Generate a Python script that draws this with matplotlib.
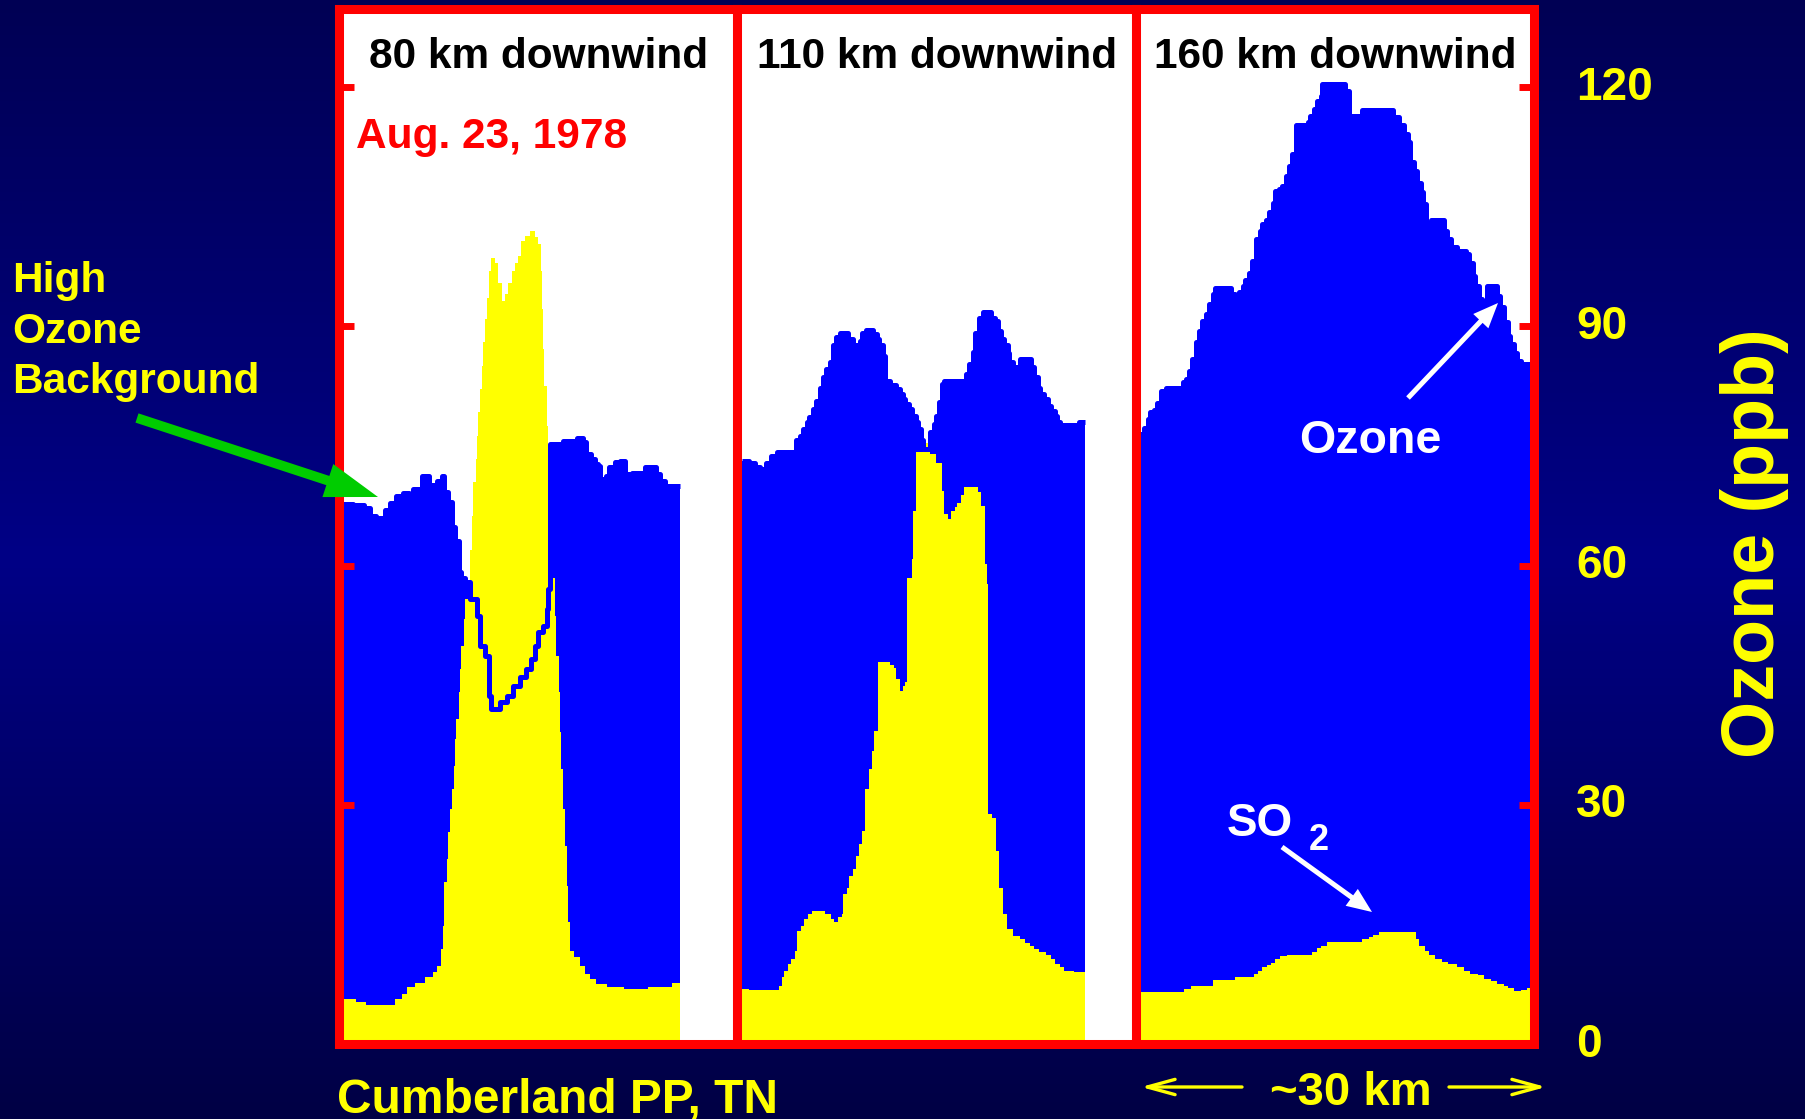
import matplotlib.pyplot as plt
import matplotlib.transforms as mtransforms
import numpy as np
from matplotlib.colors import LinearSegmentedColormap
from matplotlib.patches import FancyArrowPatch

plt.rcParams['font.family'] = ['Liberation Sans', 'DejaVu Sans']
plt.rcParams['font.weight'] = 'bold'

# (distance along traverse in km, concentration in ppb), step points
ozone_80 = [(0.0, 67.7), (0.8, 67.6), (1.6, 67.2), (2.1, 66.2), (2.5, 65.2), (2.8, 66.0), (3.2, 67.0),
            (3.6, 67.8), (4.1, 68.7), (4.6, 69.1), (5.1, 68.5), (5.4, 69.6), (6.1, 71.2), (6.6, 70.1),
            (7.2, 70.6), (7.6, 71.2), (7.8, 69.2), (8.1, 68.0), (8.4, 64.8), (8.6, 63.1), (8.9, 59.2),
            (9.1, 58.5), (9.4, 57.9), (9.8, 55.8), (10.3, 53.7), (10.5, 49.9), (10.9, 48.7), (11.2, 43.6),
            (11.4, 42.0), (12.1, 42.9), (12.6, 43.6), (13.1, 44.9), (13.6, 46.0), (14.1, 47.0), (14.5, 48.3),
            (14.8, 49.9), (15.0, 51.7), (15.4, 52.4), (15.7, 54.5), (15.8, 57.0), (15.9, 75.2), (16.9, 75.6),
            (18.0, 76.0), (18.5, 75.5), (18.7, 74.0), (19.1, 73.4), (19.4, 72.7), (19.6, 72.5), (19.8, 70.8),
            (20.2, 71.2), (20.5, 72.3), (20.9, 73.0), (21.3, 73.1), (21.7, 71.5), (22.2, 71.6), (23.2, 72.3),
            (24.1, 71.5), (24.4, 70.6), (24.8, 70.0), (25.9, 70.0)]
so2_80 = [(0.0, 5.6), (1.0, 5.3), (1.8, 4.9), (4.0, 5.6), (4.5, 6.3), (4.9, 7.2), (5.5, 7.7), (6.3, 8.4),
          (6.9, 9.0), (7.2, 9.8), (7.5, 11.9), (7.7, 14.8), (7.8, 20.3), (8.0, 23.2), (8.1, 26.6), (8.2, 29.5),
          (8.4, 32.0), (8.5, 34.9), (8.6, 38.2), (8.7, 40.8), (8.9, 44.1), (9.0, 47.0), (9.1, 49.9), (9.3, 53.3),
          (9.4, 55.8), (9.6, 58.1), (9.8, 62.0), (9.9, 66.2), (10.0, 70.5), (10.2, 73.4), (10.3, 76.2),
          (10.4, 79.2), (10.5, 82.1), (10.7, 85.0), (10.8, 88.0), (10.9, 90.9), (11.1, 93.6), (11.2, 96.9),
          (11.4, 98.6), (11.7, 98.0), (11.9, 95.5), (12.2, 93.2), (12.5, 94.0), (12.7, 95.5), (13.0, 96.9),
          (13.2, 98.0), (13.5, 98.8), (13.7, 100.7), (14.0, 101.3), (14.4, 101.9), (14.8, 101.2), (15.0, 100.3),
          (15.2, 96.9), (15.3, 92.2), (15.4, 87.1), (15.5, 82.5), (15.7, 77.5), (15.8, 69.6), (15.9, 60.0),
          (16.1, 58.5), (16.3, 53.7), (16.4, 48.7), (16.6, 44.1), (16.7, 39.1), (16.8, 34.5), (16.9, 29.5),
          (17.1, 24.8), (17.2, 19.8), (17.3, 15.3), (17.5, 11.7), (17.8, 10.9), (18.2, 9.8), (18.6, 8.8),
          (19.0, 8.2), (19.5, 7.5), (20.3, 7.2), (21.6, 6.9), (23.5, 7.2), (25.3, 7.6), (25.9, 7.6)]

ozone_110 = [(0.0, 73.1), (0.6, 72.9), (1.0, 72.3), (1.4, 71.8), (1.6, 72.1), (1.9, 72.9), (2.3, 73.8),
             (2.7, 74.3), (4.2, 75.7), (4.5, 76.3), (4.7, 77.1), (5.0, 78.0), (5.2, 78.6), (5.5, 79.6),
             (5.7, 80.7), (6.0, 82.3), (6.3, 83.6), (6.5, 84.6), (6.8, 85.5), (7.0, 87.6), (7.3, 88.7),
             (7.6, 89.2), (8.2, 88.4), (8.6, 87.6), (9.1, 88.2), (9.3, 89.2), (9.6, 89.5), (10.1, 89.0),
             (10.4, 88.4), (10.6, 87.6), (10.9, 86.3), (11.0, 83.2), (11.4, 82.7), (11.6, 82.6), (11.9, 82.1),
             (12.2, 81.5), (12.4, 80.9), (12.6, 80.3), (12.9, 79.6), (13.1, 78.8), (13.4, 78.0), (13.6, 77.1),
             (13.8, 75.7), (14.0, 74.6), (14.5, 76.7), (14.8, 77.7), (15.0, 78.8), (15.2, 80.5), (15.4, 82.8),
             (15.6, 83.2), (16.8, 82.3), (17.0, 83.2), (17.3, 84.0), (17.5, 85.3), (17.8, 86.8), (18.0, 89.2),
             (18.3, 91.1), (18.6, 91.8), (19.2, 91.1), (19.5, 90.7), (19.7, 89.4), (20.0, 88.4), (20.2, 87.6),
             (20.5, 86.7), (20.6, 85.5), (20.9, 84.9), (21.4, 85.9), (22.3, 84.9), (22.5, 83.6), (22.8, 82.3),
             (23.0, 81.5), (23.3, 80.9), (23.6, 80.0), (23.8, 79.4), (24.1, 78.8), (24.3, 78.0), (24.5, 77.6),
             (26.0, 78.0), (26.4, 78.0)]
so2_110 = [(0.0, 6.9), (0.6, 6.8), (2.9, 7.3), (3.1, 8.4), (3.3, 9.2), (3.6, 10.0), (3.8, 10.7), (4.1, 11.7),
           (4.3, 14.2), (4.6, 14.8), (4.8, 15.7), (5.1, 16.3), (5.4, 16.7), (6.4, 16.3), (6.9, 15.7), (7.1, 15.3),
           (7.4, 15.9), (7.7, 16.3), (7.8, 18.8), (8.1, 19.6), (8.3, 21.1), (8.6, 21.9), (8.8, 23.6), (9.0, 25.1),
           (9.3, 26.7), (9.5, 32.0), (9.8, 34.5), (10.0, 36.8), (10.2, 39.3), (10.5, 47.9), (11.4, 47.5),
           (11.7, 47.2), (11.9, 45.8), (12.2, 44.3), (12.4, 44.9), (12.6, 45.4), (12.7, 58.5), (13.1, 60.8),
           (13.2, 66.9), (13.4, 74.3), (14.0, 75.4), (14.5, 74.0), (15.0, 72.9), (15.4, 69.4), (15.6, 66.5),
           (15.9, 65.8), (16.1, 66.9), (16.4, 67.3), (16.6, 67.9), (16.9, 68.8), (17.1, 69.9), (18.2, 69.2),
           (18.4, 67.5), (18.7, 60.2), (18.9, 57.7), (19.0, 28.8), (19.3, 28.4), (19.6, 24.2), (19.8, 19.6),
           (20.1, 16.3), (20.4, 14.4), (20.9, 13.6), (21.4, 13.2), (21.8, 12.7), (22.2, 12.3), (22.5, 11.9),
           (22.9, 11.6), (23.4, 11.2), (23.8, 10.7), (24.1, 10.0), (24.5, 9.6), (24.8, 9.2), (25.6, 9.0),
           (26.4, 9.0)]

ozone_160 = [(0.0, 76.5), (0.3, 77.3), (0.6, 78.4), (0.8, 79.2), (1.1, 79.5), (1.3, 80.4), (1.6, 81.9),
             (2.0, 82.3), (3.3, 83.0), (3.5, 83.4), (3.8, 84.4), (4.0, 85.9), (4.3, 88.0), (4.5, 89.4),
             (4.8, 90.7), (5.1, 91.5), (5.3, 92.8), (5.6, 94.0), (5.8, 94.8), (7.0, 94.0), (7.3, 92.6),
             (7.6, 94.3), (7.9, 95.1), (8.1, 95.8), (8.4, 96.7), (8.6, 98.2), (8.9, 100.9), (9.2, 102.0),
             (9.4, 102.8), (9.7, 103.4), (9.9, 104.3), (10.2, 105.5), (10.4, 107.0), (10.7, 107.2),
             (10.9, 107.6), (11.2, 108.9), (11.5, 110.1), (11.7, 111.6), (12.0, 115.2), (12.9, 115.6),
             (13.1, 116.4), (13.4, 117.2), (13.6, 118.2), (13.9, 118.9), (14.0, 120.4), (15.8, 119.5),
             (16.1, 116.4), (17.1, 117.1), (19.5, 116.2), (19.9, 115.2), (20.3, 114.1), (20.6, 113.1),
             (20.8, 110.6), (21.1, 109.5), (21.3, 108.0), (21.6, 106.8), (21.8, 105.3), (22.0, 102.0),
             (22.4, 103.4), (23.4, 102.0), (23.6, 100.9), (23.9, 99.9), (24.4, 99.5), (25.1, 99.1),
             (25.3, 98.0), (25.6, 96.3), (25.8, 95.1), (26.1, 93.4), (26.3, 93.2), (26.7, 95.0), (27.5, 93.8),
             (27.7, 92.4), (28.0, 90.5), (28.3, 88.8), (28.5, 87.8), (28.8, 86.7), (29.0, 85.7), (29.3, 85.3),
             (30.1, 85.3)]
so2_160 = [(0.0, 6.5), (3.4, 6.9), (3.9, 7.3), (5.6, 8.0), (7.3, 8.4), (8.8, 8.8), (9.1, 9.2), (9.4, 9.6),
           (9.8, 9.9), (10.1, 10.2), (10.4, 10.7), (10.8, 11.0), (11.3, 11.2), (13.2, 11.6), (13.6, 12.0),
           (13.9, 12.3), (14.4, 12.8), (17.1, 13.2), (17.6, 13.4), (17.9, 13.7), (18.4, 14.0), (21.2, 13.2),
           (21.5, 12.3), (21.9, 11.7), (22.2, 11.1), (22.7, 10.7), (23.2, 10.3), (23.7, 10.0), (24.4, 9.6),
           (24.9, 9.2), (25.4, 8.8), (26.0, 8.6), (26.5, 8.2), (27.0, 7.9), (27.5, 7.5), (28.0, 7.3),
           (28.3, 7.0), (28.8, 6.6), (29.3, 6.8), (29.8, 7.0), (30.1, 7.0)]

panel_titles = ['80 km downwind', '110 km downwind', '160 km downwind']
ozone_ticks = [0, 30, 60, 90, 120]

W, H = 1806, 1119
fig = plt.figure(figsize=(W / 100, H / 100), dpi=100)


def fx(px):
    return px / W


def fy(py):
    return 1 - py / H


# dark blue slide background
bg = fig.add_axes([0, 0, 1, 1])
bg.set_zorder(-1)
cmap = LinearSegmentedColormap.from_list('slide', [(0, '#000044'), (0.5, '#000086'), (1, '#000054')])
bg.imshow(np.linspace(0, 1, 256).reshape(-1, 1), aspect='auto', cmap=cmap, origin='lower', extent=[0, 1, 0, 1])
bg.axis('off')

left, pw, top, bottom = 339, 398.5, 9, 1044
data = [(ozone_80, so2_80), (ozone_110, so2_110), (ozone_160, so2_160)]
axes = []
for i, (oz, so2) in enumerate(data):
    ax = fig.add_axes([fx(left + i * pw), fy(bottom), pw / W, (bottom - top) / H])
    ax.set_facecolor('white')
    ox, ov = zip(*oz)
    sx, sv = zip(*so2)
    ax.fill_between(ox, ov, step='post', color='#0000ff', lw=0)
    ax.fill_between(sx, sv, step='post', color='#ffff00', lw=0)
    # ozone trace on top so it shows through the SO2 plume
    ax.plot(ox, ov, drawstyle='steps-post', color='#0000ff', lw=3.6, solid_capstyle='butt')
    ax.set_xlim(-0.31, 30.35)
    ax.set_ylim(0, 129.8)
    ax.set_xticks([])
    for s in ax.spines.values():
        s.set_color('red')
        s.set_linewidth(6.5)
    ax.text(0.5, 0.943, panel_titles[i], transform=ax.transAxes, ha='center', va='baseline',
            fontsize=30.5, color='black')
    axes.append(ax)

axes[0].set_yticks(ozone_ticks)
axes[0].tick_params(axis='y', direction='in', length=10.8, width=5, color='red', labelleft=False)
axes[1].set_yticks([])
axes[2].set_yticks(ozone_ticks)
axes[2].yaxis.tick_right()
axes[2].tick_params(axis='y', direction='in', length=10.8, width=5, color='red', labelcolor='#ffff00',
                    labelsize=33, pad=30)
shift = mtransforms.ScaledTranslation(0, 3.2 / 72, fig.dpi_scale_trans)
for lab in axes[2].get_yticklabels():
    lab.set_transform(lab.get_transform() + shift)

axes[0].text(0.0427, 0.866, 'Aug. 23, 1978', transform=axes[0].transAxes, va='baseline',
             fontsize=30.5, color='red')

fig.text(fx(1755), fy(543), 'Ozone (ppb)', rotation=90, ha='center', va='center', fontsize=53, color='#ffff00')

for txt, y in zip(['High', 'Ozone', 'Background'], [292, 343, 393]):
    fig.text(fx(12), fy(y), txt, va='baseline', fontsize=30.5, color='#ffff00')

fig.text(fx(337), fy(1112), 'Cumberland PP, TN', va='baseline', fontsize=34.5, color='#ffff00')
fig.text(fx(1351), fy(1105), '~30 km', ha='center', va='baseline', fontsize=34, color='#ffff00')
fig.text(fx(1370), fy(453), 'Ozone', ha='center', va='baseline', fontsize=33.5, color='white')
fig.text(fx(1227), fy(836), 'SO', va='baseline', fontsize=33, color='white')
fig.text(fx(1309), fy(850), '2', va='baseline', fontsize=26, color='white')


def arrow(p0, p1, style, color, lw=0):
    a = FancyArrowPatch((fx(p0[0]), fy(p0[1])), (fx(p1[0]), fy(p1[1])), transform=fig.transFigure,
                        arrowstyle=style, mutation_scale=1, color=color, lw=lw, shrinkA=0, shrinkB=0)
    fig.add_artist(a)


arrow((137, 418), (378, 497), 'simple,head_length=38,head_width=25,tail_width=7', '#00cc00')
arrow((1408, 398), (1498, 303), 'simple,head_length=18,head_width=15,tail_width=3.6', 'white')
arrow((1282, 847), (1372, 912), 'simple,head_length=18,head_width=15,tail_width=3.6', 'white')
arrow((1242, 1087), (1141, 1087), '->,head_length=20,head_width=5.5', '#ffff00', lw=2.4)
arrow((1449, 1087), (1546, 1087), '->,head_length=20,head_width=5.5', '#ffff00', lw=2.4)

fig.savefig('out.png', dpi=100)
